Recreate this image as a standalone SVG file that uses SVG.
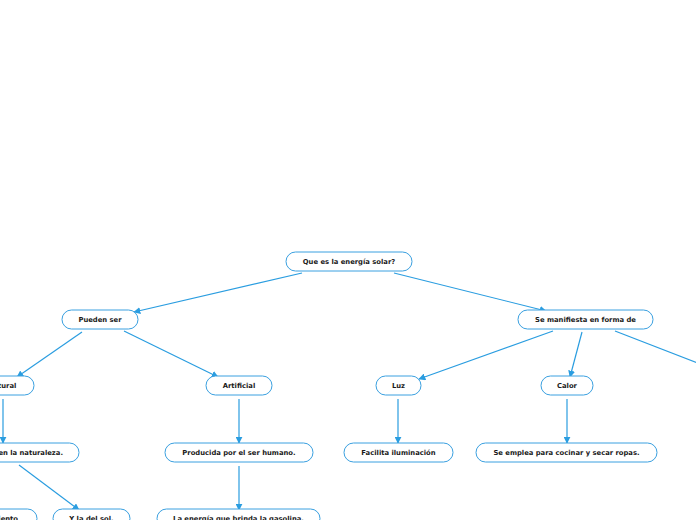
<svg xmlns="http://www.w3.org/2000/svg" width="696" height="520" viewBox="0 0 696 520">
<style>
.n rect{fill:#fff;stroke:#3aa0e0;stroke-width:1}
.n text{font-family:"DejaVu Sans",sans-serif;font-weight:bold;font-size:6.8px;fill:#1a1a1a;text-anchor:middle;dominant-baseline:central}
.c line{stroke:#2a9de0;stroke-width:1.2;marker-end:url(#a)}
</style>
<defs>
<marker id="a" viewBox="0 0 10 10" refX="9" refY="5" markerWidth="7" markerHeight="7" markerUnits="userSpaceOnUse" orient="auto">
<path d="M0,0 L10,5 L0,10 z" fill="#2a9de0"/>
</marker>
</defs>
<rect width="696" height="520" fill="#fff"/>
<g class="c">
<line x1="302" y1="273" x2="134" y2="312"/>
<line x1="394" y1="273" x2="546" y2="311"/>
<line x1="82" y1="332" x2="17" y2="377"/>
<line x1="124" y1="331" x2="218" y2="377"/>
<line x1="553" y1="331" x2="419" y2="379"/>
<line x1="582" y1="332" x2="570" y2="377"/>
<line x1="615" y1="331" x2="700" y2="364" style="marker-end:none"/>
<line x1="3" y1="399" x2="3" y2="443"/>
<line x1="19" y1="465" x2="79" y2="510"/>
<line x1="239" y1="399" x2="239" y2="443"/>
<line x1="239" y1="466" x2="239" y2="510"/>
<line x1="398" y1="399" x2="398" y2="443"/>
<line x1="567" y1="399" x2="567" y2="443"/>
</g>
<g id="root" class="n"><rect x="286" y="252" width="126" height="19" rx="9.5"/><text x="349" y="261.5">Que es la energía solar?</text></g>
<g id="pueden" class="n"><rect x="62" y="310" width="76" height="19" rx="9.5"/><text x="100" y="319.5">Pueden ser</text></g>
<g id="manifiesta" class="n"><rect x="518" y="310" width="135" height="19" rx="9.5"/><text x="585.5" y="319.5">Se manifiesta en forma de</text></g>
<g id="natural" class="n"><rect x="-30" y="376" width="64" height="19" rx="9.5"/><text x="2" y="385.5">Natural</text></g>
<g id="artificial" class="n"><rect x="206" y="376" width="66" height="19" rx="9.5"/><text x="239" y="385.5">Artificial</text></g>
<g id="luz" class="n"><rect x="376" y="376" width="45" height="19" rx="9.5"/><text x="398.5" y="385.5">Luz</text></g>
<g id="calor" class="n"><rect x="541" y="376" width="52" height="19" rx="9.5"/><text x="567" y="385.5">Calor</text></g>
<g id="naturaleza" class="n"><rect x="-70" y="443" width="149" height="19" rx="9.5"/><text x="63" y="452.5" style="text-anchor:end">en la naturaleza.</text></g>
<g id="producida" class="n"><rect x="165" y="443" width="148" height="19" rx="9.5"/><text x="239" y="452.5">Producida por el ser humano.</text></g>
<g id="facilita" class="n"><rect x="344" y="443" width="109" height="19" rx="9.5"/><text x="398.5" y="452.5">Facilita iluminación</text></g>
<g id="emplea" class="n"><rect x="476" y="443" width="181" height="19" rx="9.5"/><text x="566.5" y="452.5">Se emplea para cocinar y secar ropas.</text></g>
<g id="viento" class="n"><rect x="-40" y="509" width="77" height="19" rx="9.5"/><text x="18" y="518.5" style="text-anchor:end">iento</text></g>
<g id="sol" class="n"><rect x="53" y="509" width="77" height="19" rx="9.5"/><text x="91.5" y="518.5">Y la del sol.</text></g>
<g id="gasolina" class="n"><rect x="157" y="509" width="163" height="19" rx="9.5"/><text x="238.5" y="518.5">La energía que brinda la gasolina.</text></g>
</svg>
